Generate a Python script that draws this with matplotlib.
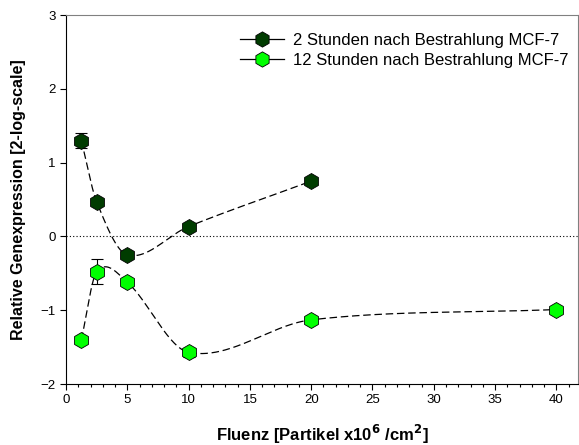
import numpy as np
import matplotlib
matplotlib.use("Agg")
import matplotlib.pyplot as plt

plt.rcParams['font.family'] = ['Liberation Sans', 'DejaVu Sans']

# Daten
x_2h = [1.25, 2.5, 5, 10, 20]
y_2h = [1.30, 0.47, -0.25, 0.135, 0.75]
err_2h = [0.10, 0.0, 0.0, 0.0, 0.0]

x_12h = [1.25, 2.5, 5, 10, 20, 40]
y_12h = [-1.40, -0.48, -0.62, -1.57, -1.13, -0.99]
err_12h = [0.0, 0.17, 0.0, 0.06, 0.0, 0.0]

labels = ["2 Stunden nach Bestrahlung MCF-7", "12 Stunden nach Bestrahlung MCF-7"]
colors = ["#003c00", "#00ff00"]


# Hermite-Spline (Catmull-Rom) durch die Punkte
def spline(x, y, n=400):
    x = np.asarray(x, float)
    y = np.asarray(y, float)
    k = len(x)
    m = np.zeros(k)
    m[0] = (y[1] - y[0]) / (x[1] - x[0])
    m[-1] = (y[-1] - y[-2]) / (x[-1] - x[-2])
    for i in range(1, k - 1):
        m[i] = (y[i + 1] - y[i - 1]) / (x[i + 1] - x[i - 1])
    xs = np.linspace(x[0], x[-1], n)
    idx = np.clip(np.searchsorted(x, xs) - 1, 0, k - 2)
    h = x[idx + 1] - x[idx]
    t = (xs - x[idx]) / h
    h00 = 2 * t**3 - 3 * t**2 + 1
    h10 = t**3 - 2 * t**2 + t
    h01 = -2 * t**3 + 3 * t**2
    h11 = t**3 - t**2
    ys = h00 * y[idx] + h10 * h * m[idx] + h01 * y[idx + 1] + h11 * h * m[idx + 1]
    return xs, ys


fig = plt.figure(figsize=(5.79, 4.45), dpi=100)
ax = fig.add_axes([0.114, 0.137, 0.884, 0.829])

ax.axhline(0, color="black", linestyle=(0, (1, 2)), linewidth=0.8)

handles = []
for xv, yv, ev, col, lab in [(x_2h, y_2h, err_2h, colors[0], labels[0]),
                             (x_12h, y_12h, err_12h, colors[1], labels[1])]:
    xs, ys = spline(xv, yv)
    ax.plot(xs, ys, color="black", linestyle=(0, (6, 3)), linewidth=0.9, zorder=2)
    ax.errorbar(xv, yv, yerr=ev, fmt="none", ecolor="black", elinewidth=0.8,
                capsize=4, capthick=0.8, zorder=3)
    ax.plot(xv, yv, linestyle="none", marker="h", markersize=11.5,
            markerfacecolor=col, markeredgecolor="black", markeredgewidth=0.6, zorder=4)
    h, = ax.plot([], [], color="black", linestyle="-", linewidth=0.9,
                 marker="h", markersize=11, markerfacecolor=col,
                 markeredgecolor="black", markeredgewidth=0.6, label=lab)
    handles.append(h)

ax.legend(handles=handles, loc="upper left", bbox_to_anchor=(0.34, 0.952),
          frameon=False, fontsize=12, handlelength=2.65, handletextpad=0.5,
          labelspacing=0.32, borderpad=0, borderaxespad=0)

ax.set_xlim(0, 41.75)
ax.set_ylim(-2, 3)
ax.set_xticks(np.arange(0, 41, 5))
ax.set_xticks(np.arange(0, 42, 1), minor=True)
ax.set_yticks(np.arange(-2, 4, 1))

ax.tick_params(axis="both", direction="out", labelsize=9.5, length=4, width=0.8)
ax.tick_params(axis="x", which="minor", direction="out", length=2.5, width=0.8)

for s in ["top", "right"]:
    ax.spines[s].set_color("#808080")
for s in ["left", "bottom"]:
    ax.spines[s].set_color("black")

ax.set_xlabel("Fluenz [Partikel x10$^\\mathbf{6}$ /cm$^\\mathbf{2}$]", fontsize=12,
              fontweight="bold", labelpad=12)
ax.set_ylabel("Relative Genexpression [2-log-scale]", fontsize=11.5,
              fontweight="bold", labelpad=10)

fig.savefig("out.png", dpi=100)
